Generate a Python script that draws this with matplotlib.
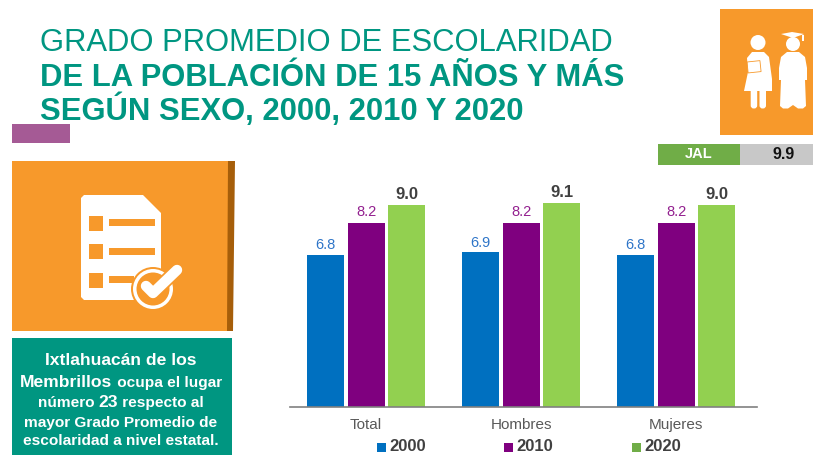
import matplotlib
matplotlib.use("Agg")
import matplotlib.pyplot as plt
from matplotlib.patches import Rectangle, Polygon, Circle, FancyBboxPatch

plt.rcParams["font.family"] = ["Liberation Sans", "DejaVu Sans"]

categories = ["Total", "Hombres", "Mujeres"]
years = ["2000", "2010", "2020"]
values_2000 = [6.8, 6.9, 6.8]
values_2010 = [8.2, 8.2, 8.2]
values_2020 = [9.0, 9.1, 9.0]
jal_label = "JAL"
jal_value = "9.9"

TEAL = "#009681"
ORANGE = "#F7992B"
BLUE = "#0070C0"
PURPLE = "#7F007F"
GREEN = "#92D050"

W, H = 813, 455
fig = plt.figure(figsize=(W / 100, H / 100), dpi=100, facecolor="white")

# background layer in pixel coords, for panels and icons
bg = fig.add_axes([0, 0, 1, 1])
bg.set_xlim(0, W)
bg.set_ylim(H, 0)
bg.axis("off")


def box(x0, y0, x1, y1, color, z=1):
    bg.add_patch(Rectangle((x0, y0), x1 - x0, y1 - y0, fc=color, ec="none", zorder=z))


def runs_line(cx, y, runs):
    """Centered line made of (text, size, weight) pieces."""
    rend = fig.canvas.get_renderer()
    widths = []
    for s, size, weight in runs:
        t = bg.text(0, 0, s.replace(" ", "\u00a0"), fontsize=size, fontweight=weight)
        widths.append(t.get_window_extent(rend).width)
        t.remove()
    x = cx - sum(widths) / 2
    for (s, size, weight), w in zip(runs, widths):
        bg.text(x, y, s.replace(" ", "\u00a0"), fontsize=size, fontweight=weight,
                color="white", ha="left", va="baseline", zorder=5)
        x += w


# title
bg.text(40, 51, "GRADO PROMEDIO DE ESCOLARIDAD", fontsize=22.3, color=TEAL, va="baseline")
bg.text(40, 86, "DE LA POBLACIÓN DE 15 AÑOS Y MÁS", fontsize=22.3, color=TEAL,
        fontweight="bold", va="baseline")
bg.text(40, 120, "SEGÚN SEXO, 2000, 2010 Y 2020", fontsize=22.3, color=TEAL,
        fontweight="bold", va="baseline")

box(12, 124, 70, 143, "#A55A95")

# left orange panel with the checklist icon
box(12, 161, 233, 331, ORANGE)
bg.add_patch(Polygon([(228, 161), (235, 161), (233, 331), (227, 331)], fc="#A65E0A", ec="none", zorder=2))
bg.add_patch(Polygon([(84, 195), (143, 195), (161, 213), (161, 300), (84, 300), (81, 297), (81, 198)],
                     fc="white", ec="none", zorder=2))
for y in [216, 244, 273]:
    box(89, y, 103, y + 14.5, ORANGE, 3)
for y, x1 in [(219, 155), (248, 155), (276, 134)]:
    box(109, y, x1, y + 7, ORANGE, 3)
bg.add_patch(Circle((153, 289), 22, fc=ORANGE, ec="none", zorder=3))
bg.add_patch(Circle((153, 289), 20, fc="white", ec="none", zorder=3))
bg.add_patch(Circle((153, 289), 16.5, fc=ORANGE, ec="none", zorder=3))
bg.plot([146, 153, 177], [286, 293, 270], color=ORANGE, lw=10, solid_capstyle="round",
        solid_joinstyle="round", zorder=4)
bg.plot([146, 153, 177], [286, 293, 270], color="white", lw=7.5, solid_capstyle="round",
        solid_joinstyle="round", zorder=4)

# green text panel
box(12, 338, 232, 455, TEAL)
runs_line(121, 365, [("Ixtlahuacán de los", 12.6, "bold")])
runs_line(121, 387, [("Membrillos", 12.6, "bold"), (" ocupa el lugar", 11.1, "bold")])
runs_line(121, 407, [("número ", 11.1, "bold"), ("23", 12.6, "bold"), (" respecto al", 11.1, "bold")])
runs_line(121, 427, [("mayor Grado Promedio de", 11.1, "bold")])
runs_line(121, 445, [("escolaridad a nivel estatal.", 11.1, "bold")])

# top right icon
box(720, 9, 813, 135, ORANGE)
bg.add_patch(Circle((758, 42.5), 7.5, fc="white", ec="none", zorder=2))
bg.add_patch(Polygon([(752, 52), (764, 52), (769, 57), (772, 79), (772, 91), (744, 91), (748, 72), (747, 58)],
                     fc="white", ec="none", zorder=2))
for x in (750.7, 759.5):
    bg.add_patch(FancyBboxPatch((x, 88), 6.5, 20.5, boxstyle="round,pad=0,rounding_size=3",
                                fc="white", ec="none", zorder=2))
bg.add_patch(Rectangle((747, 62), 13, 11, fc="none", ec=ORANGE, lw=0.6, angle=-6, zorder=3))
bg.add_patch(Polygon([(781, 34), (792, 32), (804, 34), (793, 38)], fc="white", ec="none", zorder=2))
bg.add_patch(Circle((793, 44), 7, fc="white", ec="none", zorder=2))
bg.add_patch(Polygon([(787, 52), (799, 52), (805, 57), (807, 68), (807, 80), (805, 80), (806, 106), (803, 108.5),
                      (798, 108.5), (793, 105), (788, 108.5), (783, 108.5), (780, 106), (781, 80), (779, 80),
                      (779, 68), (781, 57)],
                     fc="white", ec="none", zorder=2))
box(802, 35, 804, 41, "white", 2)

# JAL strip
box(658, 144, 740, 165, "#70AD47")
box(740, 144, 813, 165, "#C8C8C8")
bg.text(699, 154.5, jal_label, fontsize=10.5, fontweight="bold", color="white", ha="center", va="center")
bg.text(784, 154.5, jal_value, fontsize=11.5, fontweight="bold", color="#111111", ha="center", va="center")

# bars
ax = fig.add_axes([290 / W, 1 - 407 / H, 467 / W, 227 / H])
ax.patch.set_alpha(0)
group_px = 155
ax.set_xlim((290 - 366) / group_px, (757 - 366) / group_px)
ax.set_ylim(0, 227 / 22.42)
bar_w = 37 / group_px
step = 40.5 / group_px
xs = list(range(len(categories)))

series = [values_2000, values_2010, values_2020]
colors = [BLUE, PURPLE, GREEN]
label_colors = ["#2E75C8", "#93208F", "#404040"]
label_sizes = [10.5, 10.5, 12]
label_weights = ["normal", "normal", "bold"]
for i, (vals, c) in enumerate(zip(series, colors)):
    pos = [x + (i - 1) * step for x in xs]
    bars = ax.bar(pos, vals, width=bar_w, color=c)
    ax.bar_label(bars, labels=[f"{v:.1f}" for v in vals], padding=[2, 3, 2][i], color=label_colors[i],
                 fontsize=label_sizes[i], fontweight=label_weights[i])

ax.set_xticks(xs)
ax.set_xticklabels(categories, fontsize=11, color="#595959", va="baseline")
ax.tick_params(axis="x", length=0, pad=16)
ax.set_yticks([])
for s in ["top", "left", "right"]:
    ax.spines[s].set_visible(False)
ax.spines["bottom"].set_color("#808080")
ax.spines["bottom"].set_linewidth(1.2)

# legend, lifted a little so the text stays inside the frame
for x, yr, c in zip([377, 504, 632], years, [BLUE, PURPLE, "#70AD47"]):
    box(x, 443, x + 8.5, 451.5, c)
    bg.text(x + 12.5, 451.3, yr, fontsize=12, fontweight="bold", color="#404040", va="baseline")

fig.savefig("out.png", dpi=100)
